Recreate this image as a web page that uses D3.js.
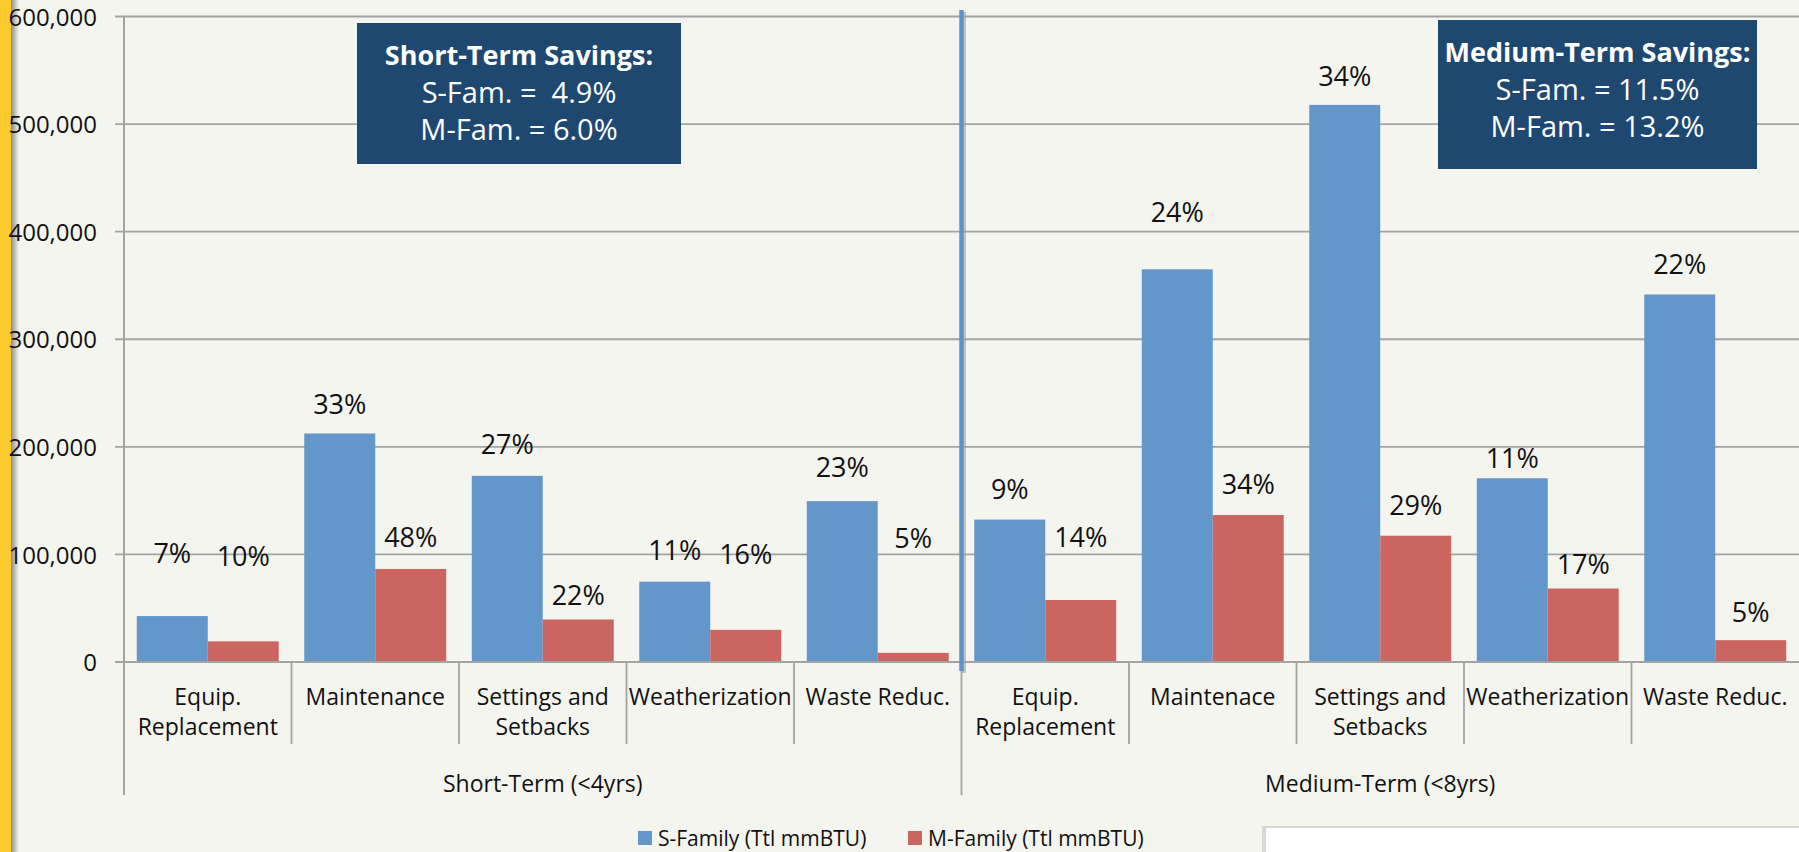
<!DOCTYPE html>
<html>
<head>
<meta charset="utf-8">
<script src="https://cdn.jsdelivr.net/npm/d3@7"></script>
<style>
  body { margin: 0; background: #f5f5f0; }
  svg { display: block; font-family: "Open Sans", sans-serif; }
  .pre { white-space: pre; }
</style>
</head>
<body>
<svg id="chart" width="1799" height="852"></svg>
<script>
// categories, two groups of five
const groups = ["Short-Term (<4yrs)", "Medium-Term (<8yrs)"];
const catLines = [
    ["Equip.", "Replacement"], ["Maintenance"], ["Settings and", "Setbacks"], ["Weatherization"], ["Waste Reduc."],
    ["Equip.", "Replacement"], ["Maintenace"], ["Settings and", "Setbacks"], ["Weatherization"], ["Waste Reduc."]
];
const seriesNames = ["S-Family (Ttl mmBTU)", "M-Family (Ttl mmBTU)"];

// values (Ttl mmBTU)
const sFam = [42700, 212400, 173000, 74700, 149500, 132400, 365000, 517800, 170800, 341600];
const mFam = [19200, 86500, 39500, 29900, 8500, 57600, 136600, 117400, 68300, 20300];

// percent labels and where they sit (value units)
const sPct = ["7%", "33%", "27%", "11%", "23%", "9%", "24%", "34%", "11%", "22%"];
const mPct = ["10%", "48%", "22%", "16%", "5%", "14%", "34%", "29%", "17%", "5%"];
const sLabelAt = [101000, 240000, 202000, 104000, 181000, 161000, 418000, 544000, 189000, 370000];
const mLabelAt = [98000, 116000, 62000, 100000, 115000, 116000, 165000, 146000, 91000, 46000];

const yTicks = [0, 100000, 200000, 300000, 400000, 500000, 600000];

// summary boxes
const boxTitles = ["Short-Term Savings:", "Medium-Term Savings:"];
const boxLines = [["S-Fam. =  4.9%", "M-Fam. = 6.0%"], ["S-Fam. = 11.5%", "M-Fam. = 13.2%"]];

const colors = ["#6396ca", "#cb6560"];
const gridColor = "#a3a3a3";

const svg = d3.select("#chart");
const W = 1799, H = 852;
const plotL = 124, plotR = 1799, plotT = 16.5, plotB = 662;

svg.append("rect").attr("width", W).attr("height", H).attr("fill", "#f5f5f0");

// yellow stripe at left with shadow
const defs = svg.append("defs");
const sh = defs.append("linearGradient").attr("id", "sh");
sh.append("stop").attr("offset", "0%").attr("stop-color", "#8a8a86");
sh.append("stop").attr("offset", "100%").attr("stop-color", "#f5f5f0");
svg.append("rect").attr("x", 11).attr("y", 0).attr("width", 8).attr("height", H).attr("fill", "url(#sh)");
svg.append("rect").attr("x", 0).attr("y", 0).attr("width", 11).attr("height", H).attr("fill", "#fdca2e");

const y = d3.scaleLinear().domain([0, 600000]).range([plotB, plotT]);
const x = d3.scaleBand().domain(d3.range(catLines.length)).range([plotL, plotR]);
const xs = d3.scaleBand().domain([0, 1]).range([0, x.bandwidth()]).paddingOuter(0.18);

// gridlines and y labels
svg.append("g").selectAll("line").data(yTicks.slice(1)).join("line")
    .attr("x1", plotL - 9).attr("x2", plotR)
    .attr("y1", d => y(d)).attr("y2", d => y(d))
    .attr("stroke", gridColor).attr("stroke-width", 1.8);

svg.append("g").selectAll("text").data(yTicks).join("text")
    .attr("x", 97).attr("y", d => y(d)).attr("dy", "0.38em")
    .attr("text-anchor", "end").attr("font-size", 24).attr("fill", "#111")
    .text(d => d3.format(",")(d));

// bars
const data = catLines.map((c, i) => [sFam[i], mFam[i]]);
const cat = svg.append("g").selectAll("g").data(data).join("g")
    .attr("transform", (d, i) => `translate(${x(i)},0)`);
cat.selectAll("rect").data(d => d).join("rect")
    .attr("x", (d, j) => xs(j)).attr("width", xs.bandwidth())
    .attr("y", d => y(d)).attr("height", d => plotB - y(d))
    .attr("fill", (d, j) => colors[j]);

// percent labels
const labelG = svg.append("g").attr("font-size", 27).attr("fill", "#111").attr("text-anchor", "middle");
[[sPct, sLabelAt], [mPct, mLabelAt]].forEach(([pct, at], j) => {
    labelG.selectAll(null).data(pct).join("text")
        .attr("x", (d, i) => x(i) + xs(j) + xs.bandwidth() / 2)
        .attr("y", (d, i) => y(at[i])).attr("dy", "0.36em")
        .text(d => d);
});

// axes lines
svg.append("line").attr("x1", plotL - 9).attr("x2", plotR).attr("y1", plotB).attr("y2", plotB)
    .attr("stroke", gridColor).attr("stroke-width", 2);
svg.append("g").selectAll("line").data(d3.range(1, catLines.length)).join("line")
    .attr("x1", i => x(i)).attr("x2", i => x(i))
    .attr("y1", plotB).attr("y2", i => i % 5 === 0 ? 795 : 744)
    .attr("stroke", gridColor).attr("stroke-width", 1.8);
svg.append("line").attr("x1", plotL).attr("x2", plotL).attr("y1", plotT).attr("y2", 795)
    .attr("stroke", gridColor).attr("stroke-width", 2);

// category labels
const catText = svg.append("g").attr("font-size", 23).attr("fill", "#111").attr("text-anchor", "middle")
    .selectAll("text").data(catLines).join("text")
    .attr("x", (d, i) => x(i) + x.bandwidth() / 2).attr("y", 705);
catText.selectAll("tspan").data(d => d).join("tspan")
    .attr("x", function () { return this.parentNode.getAttribute("x"); })
    .attr("dy", (d, k) => k === 0 ? 0 : 30)
    .text(d => d);

// group labels
svg.append("g").attr("font-size", 23).attr("fill", "#111").attr("text-anchor", "middle")
    .selectAll("text").data(groups).join("text")
    .attr("x", (d, g) => (x(g * 5) + x(g * 5 + 4) + x.bandwidth()) / 2).attr("y", 792)
    .text(d => d);

// divider line between the two horizons
const divX = x(5);
svg.append("line").attr("x1", divX + 2).attr("x2", divX + 2).attr("y1", 12).attr("y2", 673)
    .attr("stroke", "#9aa3ad").attr("stroke-width", 5).attr("opacity", 0.6);
svg.append("line").attr("x1", divX).attr("x2", divX).attr("y1", 10).attr("y2", 671)
    .attr("stroke", "#5f93c7").attr("stroke-width", 4.5);

// summary boxes
const boxes = [{ x0: 357, x1: 681, y0: 23, y1: 164 }, { x0: 1438, x1: 1757, y0: 20, y1: 169 }];
boxes.forEach((b, k) => {
    svg.append("rect").attr("x", b.x0).attr("y", b.y0).attr("width", b.x1 - b.x0).attr("height", b.y1 - b.y0)
        .attr("fill", "#1f4870");
    const cx = (b.x0 + b.x1) / 2;
    const t = svg.append("text").attr("class", "pre").attr("text-anchor", "middle").attr("fill", "#fff");
    t.append("tspan").attr("x", cx).attr("y", b.y0 + 42).attr("font-size", 27).attr("font-weight", "bold").text(boxTitles[k]);
    boxLines[k].forEach((l, m) => {
        t.append("tspan").attr("x", cx).attr("y", b.y0 + 80 + m * 37).attr("font-size", 29).text(l);
    });
});

// legend
const lg = svg.append("g").attr("font-size", 21).attr("fill", "#111");
const legX = [638, 908];
seriesNames.forEach((n, j) => {
    lg.append("rect").attr("x", legX[j]).attr("y", 831).attr("width", 14).attr("height", 14).attr("fill", colors[j]);
    lg.append("text").attr("x", legX[j] + 20).attr("y", 838).attr("dy", "0.36em").text(n);
});

// white panel bottom right
svg.append("rect").attr("x", 1262).attr("y", 826).attr("width", 540).attr("height", 30).attr("fill", "#d8d8d4");
svg.append("rect").attr("x", 1266).attr("y", 828).attr("width", 540).attr("height", 30).attr("fill", "#ffffff");
</script>
</body>
</html>
